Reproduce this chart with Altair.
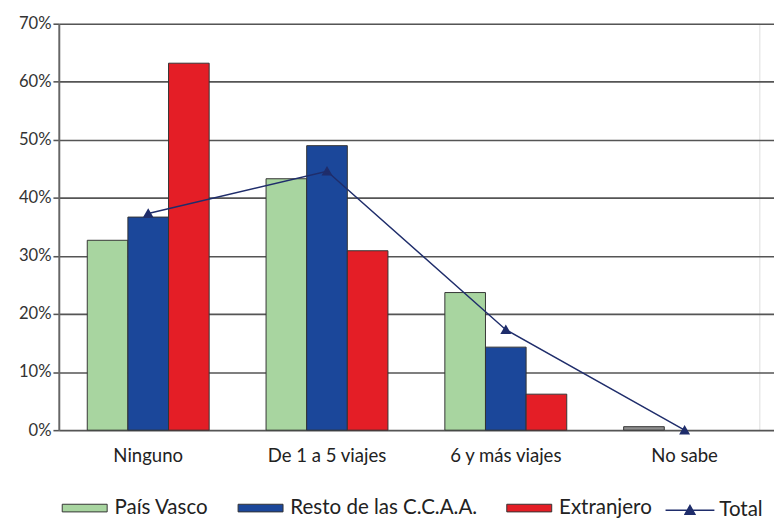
import altair as alt
import pandas as pd

categorias = ["Ninguno", "De 1 a 5 viajes", "6 y más viajes", "No sabe"]
series = ["País Vasco", "Resto de las C.C.A.A.", "Extranjero"]
pais_vasco = [0.327, 0.433, 0.237, 0.006]
resto_ccaa = [0.367, 0.490, 0.143, None]
extranjero = [0.632, 0.309, 0.062, None]
total = [0.373, 0.446, 0.173, 0.0]

colores = ["#a8d5a0", "#1b479a", "#e41e26"]
color_total = "#1f2d6b"
FONT = "Lato"

rows = []
for s, vals in zip(series, [pais_vasco, resto_ccaa, extranjero]):
    for c, v in zip(categorias, vals):
        if v is not None:
            rows.append({"cat": c, "serie": s, "valor": v})
bars_df = pd.DataFrame(rows)
line_df = pd.DataFrame({"cat": categorias, "serie": ["Total"] * 4, "valor": total})

x_enc = alt.X(
    "cat:N",
    sort=categorias,
    scale=alt.Scale(range=[0, 732], paddingInner=0, paddingOuter=0),
    axis=alt.Axis(
        title=None, labelAngle=0, ticks=False, domain=False, labelPadding=17,
        labelFont=FONT, labelFontSize=19, labelColor="#222",
    ),
)
y_enc = alt.Y(
    "valor:Q",
    scale=alt.Scale(domain=[0, 0.7], nice=False),
    axis=alt.Axis(
        title=None, format="%", values=[0, 0.1, 0.2, 0.3, 0.4, 0.5, 0.6, 0.7],
        grid=True, gridColor="#555", gridWidth=1.6, tickColor="#555", tickWidth=1.6,
        tickSize=6, domainColor="#666", domainWidth=2, labelPadding=2,
        labelFont=FONT, labelFontSize=17, labelColor="#333",
    ),
)

bar_path = "M-1,-0.17H1V0.17H-1Z"
bars = alt.Chart(bars_df).mark_bar(stroke="#333", strokeWidth=1).encode(
    x=x_enc,
    xOffset=alt.XOffset("serie:N", sort=series,
                        scale=alt.Scale(paddingInner=0, paddingOuter=0.7)),
    y=y_enc,
    fill=alt.condition(
        "datum.cat == 'No sabe'",
        alt.value("#8f8f8f"),
        alt.Fill(
            "serie:N", sort=series,
            scale=alt.Scale(domain=series, range=colores),
            legend=alt.Legend(
                title=None, orient="none", legendX=3, legendY=472,
                direction="horizontal", symbolType=bar_path, symbolSize=2116,
                symbolStrokeColor="#333", symbolStrokeWidth=1,
                labelFont=FONT, labelFontSize=21, labelColor="#222",
                labelOffset=7, columnPadding=27, labelLimit=400,
            ),
        ),
    ),
)

line_path = "M-1,0H1M-0.2,0.16L0,-0.2L0.2,0.16Z"
line = alt.Chart(line_df).mark_line(
    strokeWidth=1.5,
    point=alt.OverlayMarkDef(shape="triangle-up", size=60, filled=True, fill=color_total),
).encode(
    x=alt.X("cat:N", sort=categorias),
    y=alt.Y("valor:Q"),
    stroke=alt.Stroke(
        "serie:N",
        scale=alt.Scale(domain=["Total"], range=[color_total]),
        legend=alt.Legend(
            title=None, orient="none", legendX=620, legendY=472,
            direction="horizontal", symbolType=line_path, symbolSize=2500,
            symbolFillColor=color_total, symbolStrokeColor=color_total,
            symbolStrokeWidth=1.5,
            labelFont=FONT, labelFontSize=21, labelColor="#222", labelOffset=4,
        ),
    ),
)

chart = alt.layer(bars, line).resolve_scale(fill="independent", stroke="independent").properties(
    width=717, height=416,
    padding={"left": 10, "top": 1, "right": 0, "bottom": 0},
).configure_view(stroke=None).configure(background="white")

chart.save("out.html", embed_options={"renderer": "svg", "actions": False})
